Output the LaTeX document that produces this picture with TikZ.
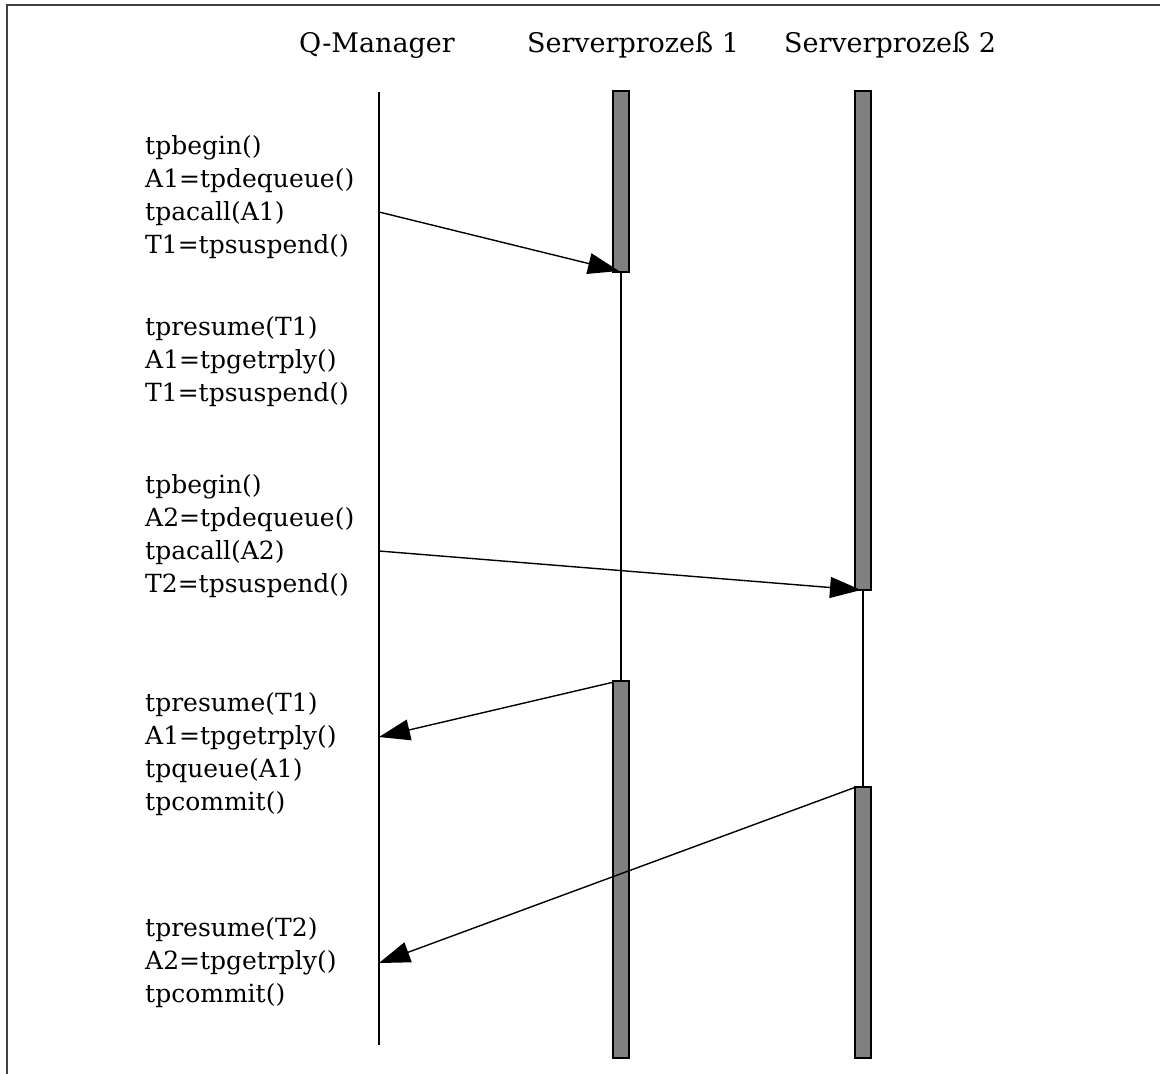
\documentclass[tikz,border=0pt]{standalone}
\usepackage{fontspec}
\setmainfont{DejaVu Serif}
\usetikzlibrary{arrows.meta}
\begin{document}
\begin{tikzpicture}[x=1pt,y=-1pt,
  frame/.style={draw=black!75,line width=1.6pt},
  life/.style={draw=black,line width=1.4pt},
  bar/.style={draw=black,fill=black!50,line width=1.4pt},
  msg/.style={draw=black,line width=1.4pt,-{Triangle[length=31pt,width=21pt]}},
  head/.style={font=\fontsize{27}{30}\selectfont,anchor=base},
  calls/.style={font=\fontsize{25}{33}\selectfont,align=left,anchor=north west,inner sep=0pt}]
\useasboundingbox (0,0) rectangle (1160,1074);
% outer frame (open to the right and bottom)
\draw[frame] (1160,5) -- (7,5) -- (7,1074);

% column headings
\node[head] (hq)  at (377,52) {Q-Manager};
\node[head] (hs1) at (633,52) {Serverprozeß 1};
\node[head] (hs2) at (890,52) {Serverprozeß 2};

% Q-Manager lifeline
\coordinate (qtop) at (379,92);
\coordinate (qbot) at (379,1045);
\draw[life] (qtop) -- (qbot);

% Serverprozess 1: active, idle, active
\draw[bar] (613,91) rectangle (629,272);
\coordinate (s1idleA) at (621,272);
\coordinate (s1idleB) at (621,681);
\draw[life] (s1idleA) -- (s1idleB);
\draw[bar] (613,681) rectangle (629,1058);

% Serverprozess 2: active, idle, active
\draw[bar] (855,91) rectangle (871,590);
\coordinate (s2idleA) at (863,590);
\coordinate (s2idleB) at (863,787);
\draw[life] (s2idleA) -- (s2idleB);
\draw[bar] (855,787) rectangle (871,1058);

% message end points
\coordinate (q1) at (379,212);
\coordinate (s1in) at (619,271);
\coordinate (q2) at (379,551);
\coordinate (s2in) at (861,590);
\coordinate (s1out) at (614,682);
\coordinate (q3) at (379,737);
\coordinate (s2out) at (856,787);
\coordinate (q4) at (379,963);

\draw[msg] (q1) -- (s1in);
\draw[msg] (q2) -- (s2in);
\draw[msg] (s1out) -- (q3);
\draw[msg] (s2out) -- (q4);

% call sequences of the Q-Manager
\node[calls] (b1) at (145,135) {tpbegin()\\A1=tpdequeue()\\tpacall(A1)\\T1=tpsuspend()};
\node[calls] (b2) at (145,316) {tpresume(T1)\\A1=tpgetrply()\\T1=tpsuspend()};
\node[calls] (b3) at (145,474) {tpbegin()\\A2=tpdequeue()\\tpacall(A2)\\T2=tpsuspend()};
\node[calls] (b4) at (145,692) {tpresume(T1)\\A1=tpgetrply()\\tpqueue(A1)\\tpcommit()};
\node[calls] (b5) at (145,917) {tpresume(T2)\\A2=tpgetrply()\\tpcommit()};
\end{tikzpicture}
\end{document}
